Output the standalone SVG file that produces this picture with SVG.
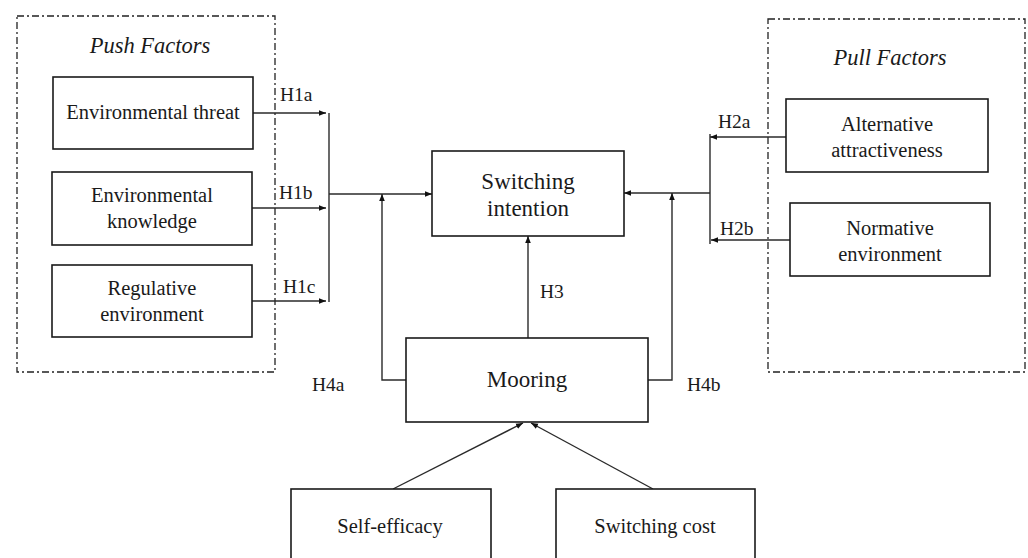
<svg xmlns="http://www.w3.org/2000/svg" width="1028" height="558" viewBox="0 0 1028 558">
<defs>
<marker id="ah" viewBox="0 0 10 10" refX="10" refY="5" markerWidth="7" markerHeight="7" markerUnits="userSpaceOnUse" orient="auto">
<path d="M0,1 L10,5 L0,9 z" fill="#111"/>
</marker>
<style>
.grp{fill:none;stroke:#222;stroke-width:1.3;stroke-dasharray:7 3 2 3}
.box{fill:#fff;stroke:#1a1a1a;stroke-width:1.6}
.t{font-family:"Liberation Serif","Times New Roman",serif;font-size:20.5px;fill:#1a1a1a;text-anchor:middle}
.big{font-size:23px}
.ttl{font-style:italic;font-size:22.5px}
.lbl{font-family:"Liberation Serif","Times New Roman",serif;font-size:19.5px;fill:#1a1a1a}
.c{fill:none;stroke:#2a2a2a;stroke-width:1.4}
.a{marker-end:url(#ah)}
</style>
</defs>
<rect width="1028" height="558" fill="#fff"/>

<g id="push-factors">
<rect class="grp" x="17" y="16" width="258" height="356"/>
<text class="t ttl" x="150" y="53">Push Factors</text>
</g>
<g id="pull-factors">
<rect class="grp" x="768" y="19" width="257" height="353"/>
<text class="t ttl" x="890" y="65">Pull Factors</text>
</g>

<g id="connectors">
<line class="c a" x1="253" y1="113" x2="326" y2="113"/>
<line class="c a" x1="252" y1="208" x2="326" y2="208"/>
<line class="c a" x1="252" y1="301" x2="326" y2="301"/>
<line class="c" x1="329" y1="113" x2="329" y2="302"/>
<line class="c a" x1="329" y1="194" x2="432" y2="194"/>
<polyline class="c a" points="406,380 382,380 382,194"/>
<line class="c a" x1="786" y1="137" x2="710" y2="137"/>
<line class="c a" x1="790" y1="240" x2="711" y2="240"/>
<line class="c" x1="710" y1="134" x2="710" y2="244"/>
<line class="c a" x1="710" y1="193" x2="624" y2="193"/>
<polyline class="c a" points="648,380 672,380 672,193"/>
<line class="c a" x1="528" y1="338" x2="528" y2="236"/>
<line class="c a" x1="393" y1="489" x2="523" y2="423"/>
<line class="c a" x1="653" y1="489" x2="531" y2="423"/>
<text class="lbl" x="280" y="101">H1a</text>
<text class="lbl" x="279" y="199">H1b</text>
<text class="lbl" x="283" y="293">H1c</text>
<text class="lbl" x="718" y="128">H2a</text>
<text class="lbl" x="720" y="235">H2b</text>
<text class="lbl" x="540" y="298">H3</text>
<text class="lbl" x="312" y="391">H4a</text>
<text class="lbl" x="687" y="391">H4b</text>
</g>

<g id="environmental-threat">
<rect class="box" x="53" y="77" width="200" height="72"/>
<text class="t" x="153" y="119">Environmental threat</text>
</g>
<g id="environmental-knowledge">
<rect class="box" x="52" y="172" width="200" height="73"/>
<text class="t" x="152" y="202">Environmental</text>
<text class="t" x="152" y="228">knowledge</text>
</g>
<g id="regulative-environment">
<rect class="box" x="52" y="265" width="200" height="72"/>
<text class="t" x="152" y="295">Regulative</text>
<text class="t" x="152" y="321">environment</text>
</g>
<g id="alternative-attractiveness">
<rect class="box" x="786" y="99" width="202" height="73"/>
<text class="t" x="887" y="131">Alternative</text>
<text class="t" x="887" y="157">attractiveness</text>
</g>
<g id="normative-environment">
<rect class="box" x="790" y="203" width="200" height="73"/>
<text class="t" x="890" y="235">Normative</text>
<text class="t" x="890" y="261">environment</text>
</g>
<g id="switching-intention">
<rect class="box" x="432" y="151" width="192" height="85"/>
<text class="t big" x="528" y="189">Switching</text>
<text class="t big" x="528" y="216">intention</text>
</g>
<g id="mooring">
<rect class="box" x="406" y="338" width="242" height="84"/>
<text class="t big" x="527" y="387">Mooring</text>
</g>
<g id="self-efficacy">
<rect class="box" x="291" y="489" width="200" height="90"/>
<text class="t" x="390" y="533">Self-efficacy</text>
</g>
<g id="switching-cost">
<rect class="box" x="556" y="489" width="199" height="90"/>
<text class="t" x="655" y="533">Switching cost</text>
</g>
</svg>
